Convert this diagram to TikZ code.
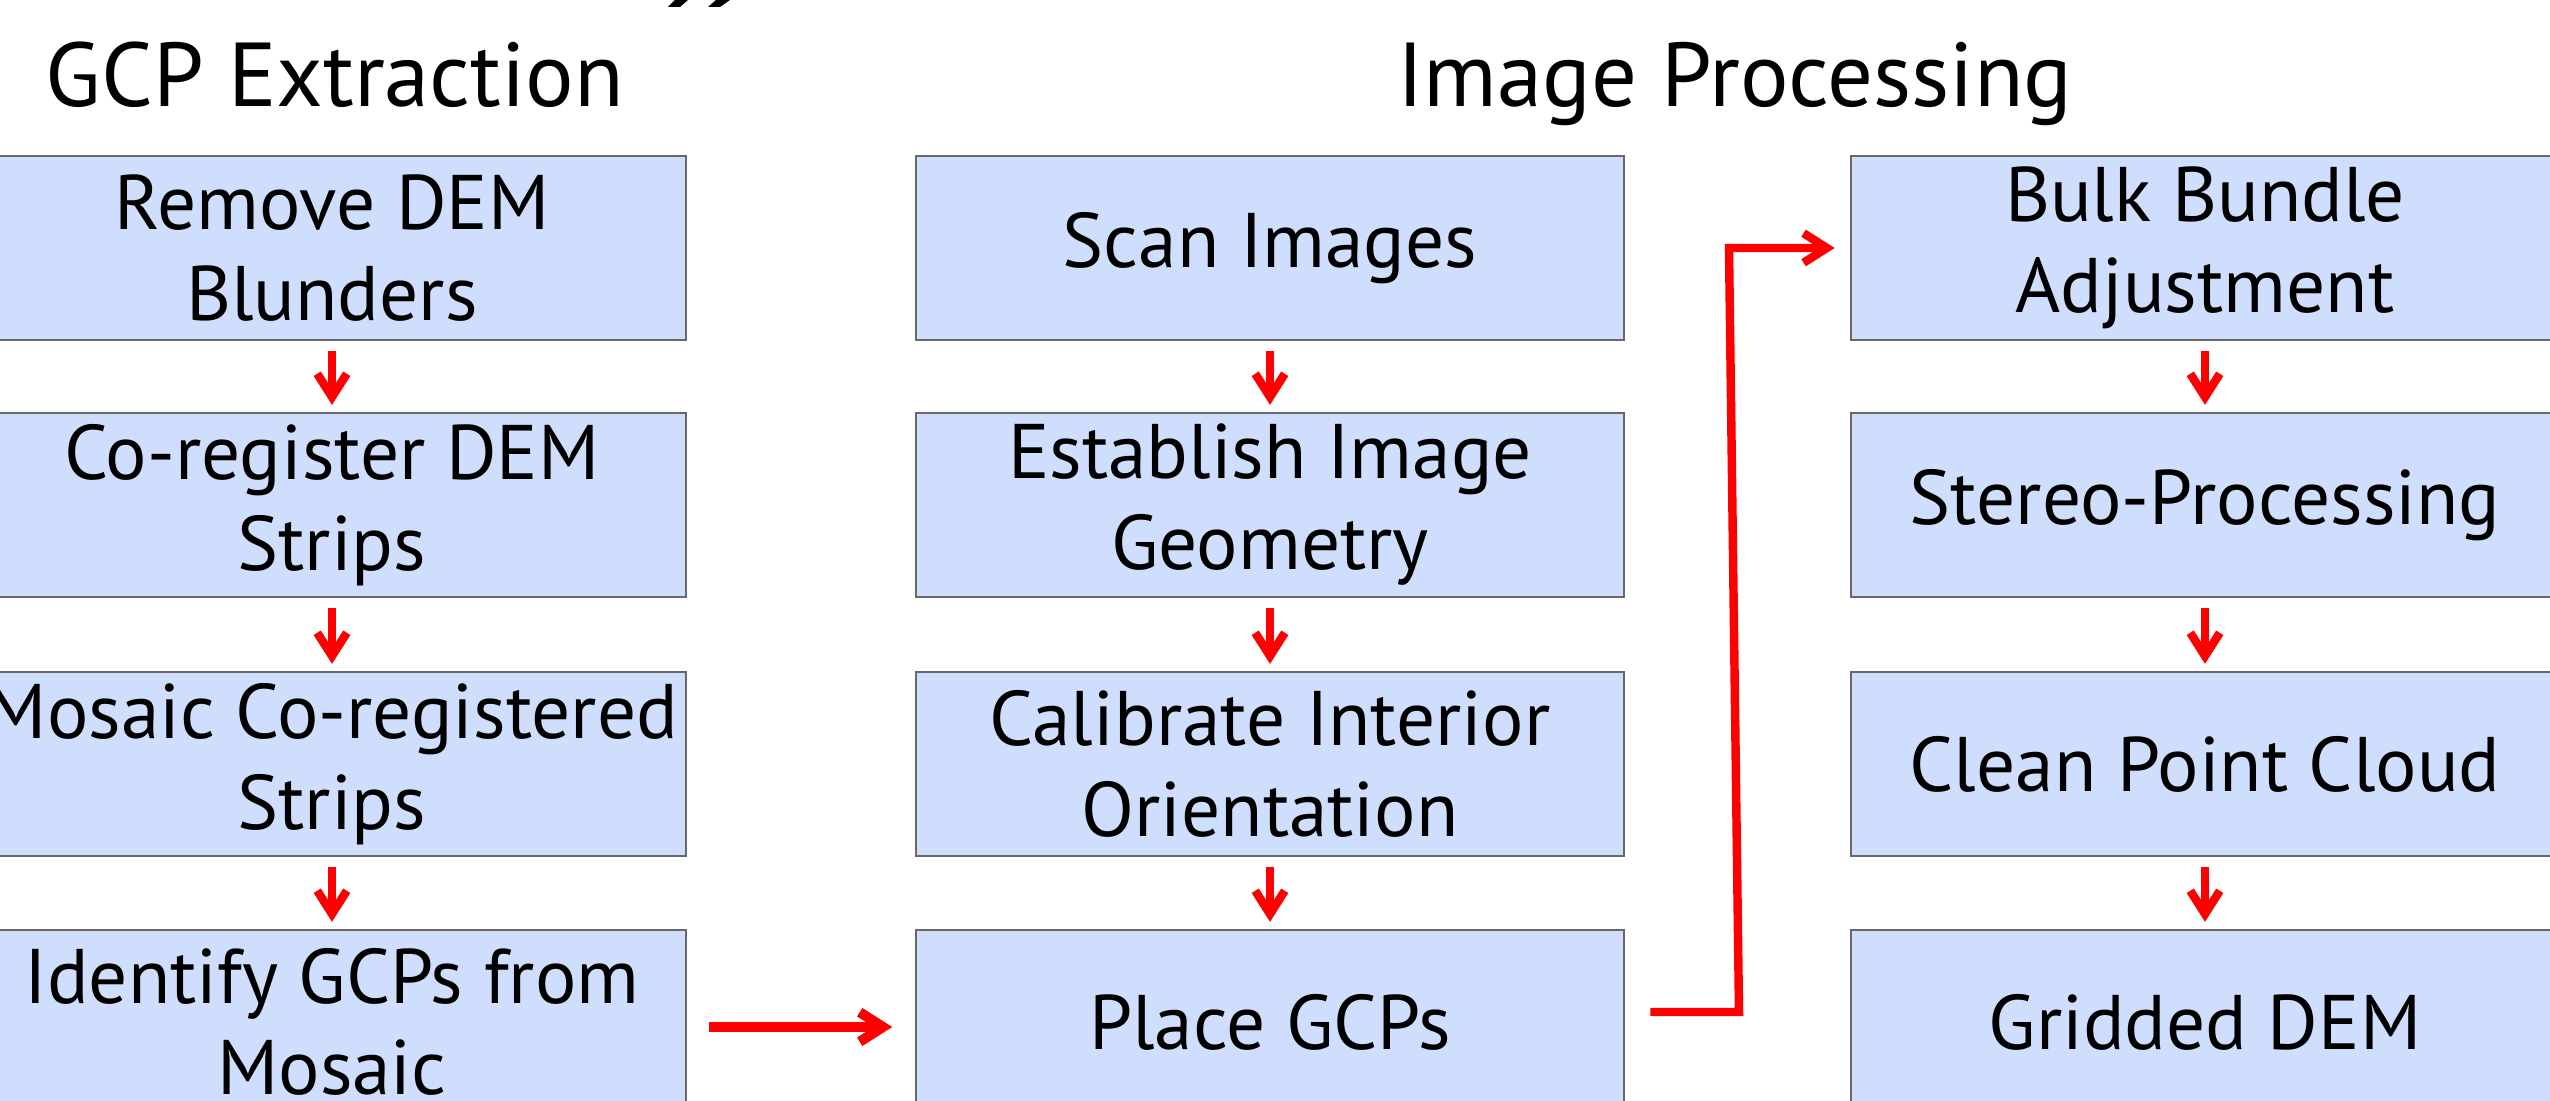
\documentclass[tikz,border=0pt]{standalone}
\usepackage{fontspec}
\setmainfont{PT Sans}
\usetikzlibrary{arrows.meta,calc}
\definecolor{boxfill}{RGB}{207,222,252}
\definecolor{boxline}{RGB}{105,105,105}
\newcommand\mybox{\fontsize{22pt}{25.9pt}\selectfont}
\newcommand\mytitle{\fontsize{25.8pt}{30pt}\selectfont}
\begin{document}
\begin{tikzpicture}[x=0.01cm,y=-0.01cm,
  stepbox/.style={draw=boxline,line width=0.6pt,fill=boxfill,minimum width=7.08cm,
    minimum height=1.84cm,inner sep=0pt,align=center,font=\mybox},
  ttl/.style={anchor=base,font=\mytitle,inner sep=0pt},
  tip/.style={-{Straight Barb[length=6.6pt,width=8.4pt]}},
  downarr/.style={draw=red,line width=2.4pt,tip,shorten <=2.85pt,shorten >=2pt},
  bigarr/.style={draw=red,line width=2.6pt,tip}]
\useasboundingbox (0,0) rectangle (2550,1101);
\clip (0,0) rectangle (2550,1101);
\fill[white] (0,0) rectangle (2550,1101);
% clipped fragment of a title above the picture
\fill[black] (675,0) -- (688,0) -- (680,7) -- (668,7) -- cycle;
\fill[black] (716,0) -- (730,0) -- (720,7) -- (708,7) -- cycle;
% titles
\node[ttl] (t1) at (335,107) {GCP Extraction};
\node[ttl] (t2) at (1735,107) {Image Processing};
% left column
\node[stepbox] (l1) at (332,248) {Remove DEM\\Blunders};
\node[stepbox] (l2) at (332,505) {Co-register DEM\\Strips};
\node[stepbox] (l3) at (332,764) {Mosaic Co-registered\\Strips};
\node[stepbox] (l4) at (332,1022) {Identify GCPs from\\Mosaic};
% middle column
\node[stepbox] (m1) at (1270,248) {Scan Images};
\node[stepbox] (m2) at (1270,505) {Establish Image\\Geometry};
\node[stepbox] (m3) at (1270,764) {Calibrate Interior\\Orientation};
\node[stepbox] (m4) at (1270,1022) {Place GCPs};
% right column
\node[stepbox] (r1) at (2205,248) {Bulk Bundle\\Adjustment};
\node[stepbox] (r2) at (2205,505) {Stereo-Processing};
\node[stepbox] (r3) at (2205,764) {Clean Point Cloud};
\node[stepbox] (r4) at (2205,1022) {Gridded DEM};
% vertical arrows
\foreach \c in {l,m,r}{
  \draw[downarr] (\c1.south) -- (\c2.north);
  \draw[downarr] (\c2.south) -- (\c3.north);
  \draw[downarr] (\c3.south) -- (\c4.north);
}
% horizontal arrow
\draw[bigarr,line width=2.85pt,shorten <=6.2pt,shorten >=6.4pt]
  ($(l4.east)+(0,5)$) -- ($(m4.west)+(0,5)$);
% elbow connector
\coordinate (e1) at (1739,1012);
\coordinate (e2) at (1729,248);
\draw[bigarr,line width=2.4pt,shorten >=4.3pt] ($(m4.east)+(25,-10)$) -- (e1) -- (e2) -- (r1.west);
\end{tikzpicture}
\end{document}
